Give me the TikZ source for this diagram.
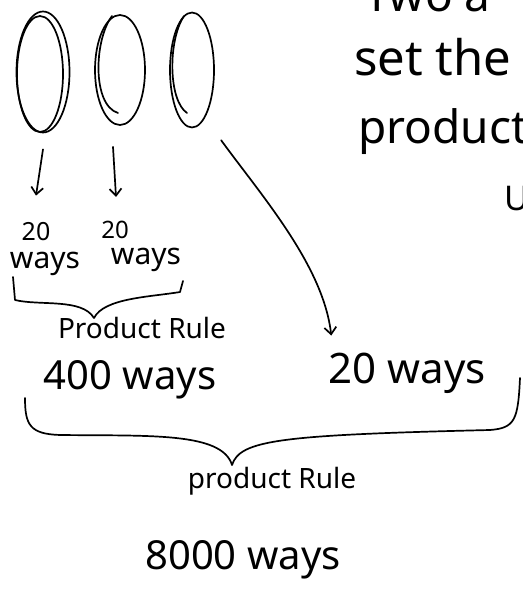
\documentclass[tikz,border=0pt]{standalone}
\usepackage{fontspec}
\setmainfont{Noto Sans}
\usepackage{tikz}
\usetikzlibrary{positioning,shapes.geometric,arrows.meta}

\begin{document}
\begin{tikzpicture}[x=1pt,y=-1pt,
      hw/.style={line width=1.7pt,line cap=round,line join=round},
      oval/.style={ellipse,draw,hw,inner sep=0pt},
      arr/.style={hw,-{Straight Barb[length=7pt,width=12pt]}},
      lbl/.style={inner sep=2pt,font=\fontsize{#1}{#1}\selectfont}]
    \useasboundingbox (0,0) rectangle (522,596);
    \clip (0,0) rectangle (522,596);
    % the three sets, each drawn with an extra stroke
    \node[oval,minimum width=53pt,minimum height=121pt] (s1) at (43,72) {};
    \node[oval,minimum width=50pt,minimum height=110pt] (s2) at (120,70) {};
    \node[oval,minimum width=44pt,minimum height=115pt] (s3) at (192,70) {};
    \draw[hw] (40,74) ellipse [x radius=23, y radius=58];
    \draw[hw] (112,16) .. controls (94,40) and (92,105) .. (118,113);
    \draw[hw] (184,16) .. controls (168,40) and (168,100) .. (187,113);
    % counts under the first two sets
    \node[lbl=25] (n1) at (36,232) {20};
    \node[lbl=30] (w1) at (45,264) {ways};
    \node[lbl=24] (n2) at (115,230) {20};
    \node[lbl=30] (w2) at (146,260) {ways};
    \draw[arr] ([yshift=-16pt]s1.south) -- ([yshift=25pt]n1.north);
    \draw[arr] ([xshift=-7pt,yshift=-21pt]s2.south) -- ([xshift=1pt,yshift=22pt]n2.north);
    % first brace
    \draw[hw] (13,277) -- (15,300) .. controls (40,306) and (82,298) .. (94,318)
      .. controls (104,298) and (150,297) .. (180,292) -- (183,281);
    \node[lbl=28] (pr1) at (142,328) {Product Rule};
    \node[lbl=40] (r1) at (130,380) {400 ways};
    \node[lbl=42] (r2) at (407,373) {20 ways};
    \draw[arr] ([xshift=13pt,yshift=-29pt]s3.south east)
      .. controls +(40,55) and +(-8,-70) .. ([xshift=5pt,yshift=15pt]r2.north west);
    % second brace
    \draw[hw] (25,398) .. controls (25,425) and (30,434) .. (60,435)
      .. controls (150,436) and (222,432) .. (232,465)
      .. controls (240,440) and (280,435) .. (490,430)
      .. controls (515,428) and (518,420) .. (520,378);
    \node[lbl=28] (pr2) at (272,481) {product Rule};
    \node[lbl=40] (tot) at (243,560) {8000 ways};
    % words running off the right edge
    \node[lbl=46,anchor=base west] (q0) at (362,12) {Two a};
    \node[lbl=49,anchor=base west] (q1) at (352,76) {set the};
    \node[lbl=46,anchor=base west] (q2) at (356,143) {product};
    \node[lbl=34,anchor=base west] (q3) at (502,210) {U};
  \end{tikzpicture}
\end{document}
